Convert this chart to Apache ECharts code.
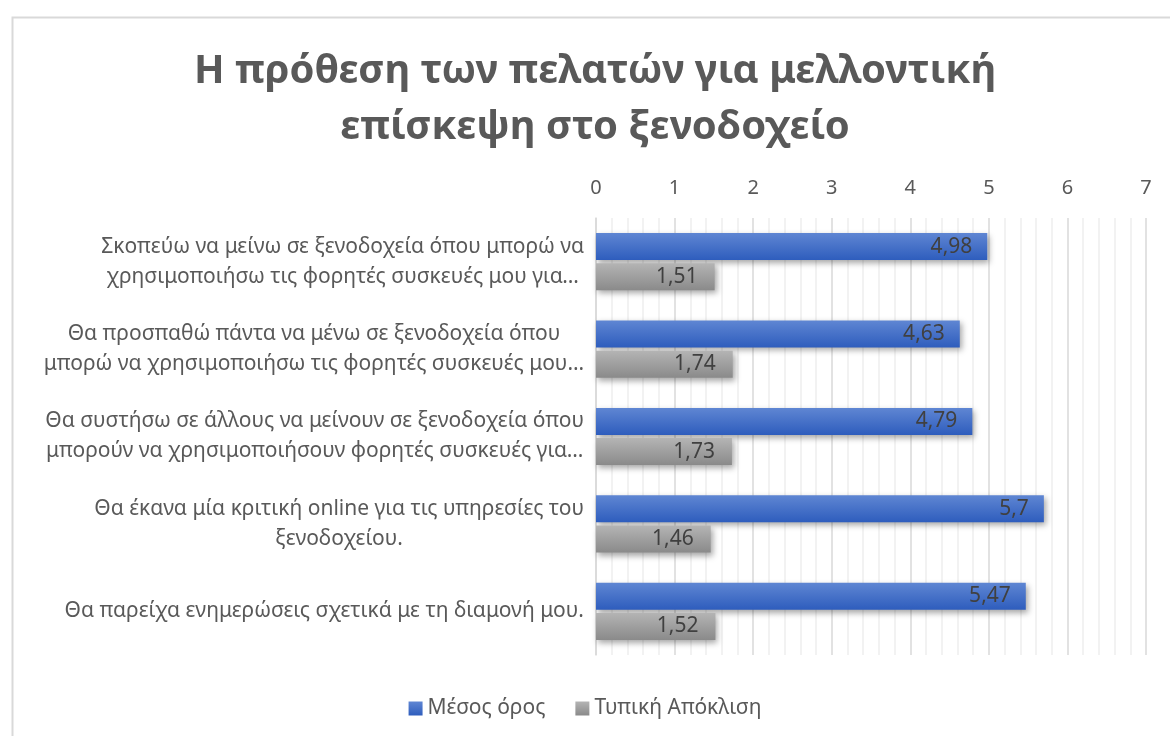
<!DOCTYPE html>
<html>
<head>
<meta charset="utf-8">
<title>Η πρόθεση των πελατών για μελλοντική επίσκεψη στο ξενοδοχείο</title>
<script src="https://cdn.jsdelivr.net/npm/echarts@6/dist/echarts.min.js"></script>
<style>
  html, body { margin: 0; padding: 0; background: #ffffff; }
  #chart { width: 1170px; height: 736px; }
</style>
</head>
<body>
<div id="chart"></div>
<script>
// Survey statements (already wrapped / shortened as shown on the axis)
const categories = [
  'Σκοπεύω να μείνω σε ξενοδοχεία όπου μπορώ να\nχρησιμοποιήσω τις φορητές συσκευές μου για…',
  'Θα προσπαθώ πάντα να μένω σε ξενοδοχεία όπου\nμπορώ να χρησιμοποιήσω τις φορητές συσκευές μου…',
  'Θα συστήσω σε άλλους να μείνουν σε ξενοδοχεία όπου\nμπορούν να χρησιμοποιήσουν φορητές συσκευές για…',
  'Θα έκανα μία κριτική online για τις υπηρεσίες του\nξενοδοχείου.',
  'Θα παρείχα ενημερώσεις σχετικά με τη διαμονή μου.'
];

const meanValues = [4.98, 4.63, 4.79, 5.7, 5.47];
const stdValues = [1.51, 1.74, 1.73, 1.46, 1.52];

const seriesNames = ['Μέσος όρος', 'Τυπική Απόκλιση'];
const titleText = 'Η πρόθεση των πελατών για μελλοντική\nεπίσκεψη στο ξενοδοχείο';

const FONT = '"Noto Sans", "Open Sans", "DejaVu Sans", sans-serif';
const TEXT = '#595959';

const fmtComma = v => String(v).replace('.', ',');

const blueFill = new echarts.graphic.LinearGradient(0, 0, 0, 1, [
  { offset: 0, color: '#5f86d3' },
  { offset: 1, color: '#2e5dbd' }
]);
const grayFill = new echarts.graphic.LinearGradient(0, 0, 0, 1, [
  { offset: 0, color: '#b4b4b4' },
  { offset: 1, color: '#8a8a8a' }
]);

const barShadow = {
  shadowColor: 'rgba(0,0,0,0.35)',
  shadowBlur: 6,
  shadowOffsetX: 2,
  shadowOffsetY: 3
};

const valueLabel = {
  show: true,
  position: 'insideRight',
  distance: 15,
  formatter: p => fmtComma(p.value),
  fontFamily: FONT,
  fontSize: 21,
  color: '#404040'
};

const chart = echarts.init(document.getElementById('chart'), null, { renderer: 'canvas' });

chart.setOption({
  backgroundColor: '#ffffff',
  animation: false,
  textStyle: { fontFamily: FONT },
  graphic: [
    {
      // chart-area frame
      type: 'rect',
      left: 10,
      top: 15,
      shape: { x: 0, y: 0, width: 1170, height: 740 },
      style: { fill: 'none', stroke: '#d9d9d9', lineWidth: 2 },
      silent: true,
      z: -1
    },
    {
      // two-line title
      type: 'text',
      x: 595,
      y: 100,
      style: {
        text: titleText,
        align: 'center',
        verticalAlign: 'middle',
        fontFamily: FONT,
        fontWeight: 'bold',
        fontSize: 40,
        lineHeight: 56,
        fill: TEXT
      },
      silent: true
    }
  ],
  legend: {
    data: seriesNames,
    bottom: 12,
    left: 'center',
    itemWidth: 14,
    itemHeight: 14,
    itemGap: 30,
    icon: 'rect',
    textStyle: { fontFamily: FONT, fontSize: 21, color: TEXT }
  },
  grid: {
    left: 596,
    right: 24,
    top: 218,
    bottom: 81,
    containLabel: false
  },
  xAxis: {
    type: 'value',
    position: 'top',
    min: 0,
    max: 7,
    interval: 1,
    axisLine: { show: false },
    axisTick: { show: false },
    axisLabel: {
      margin: 20,
      fontFamily: FONT,
      fontSize: 20,
      color: TEXT
    },
    splitLine: { show: true, lineStyle: { color: '#d9d9d9', width: 1.5 } },
    minorTick: { show: false, splitNumber: 5 },
    minorSplitLine: { show: true, lineStyle: { color: '#eeeeee', width: 1.5 } }
  },
  yAxis: {
    type: 'category',
    inverse: true,
    data: categories,
    axisLine: { show: true, lineStyle: { color: '#d9d9d9', width: 1.5 } },
    axisTick: { show: false },
    axisLabel: {
      margin: 12,
      align: 'right',
      fontFamily: FONT,
      fontSize: 21,
      color: TEXT,
      formatter: v => v.split('\n').map(l => '{c|' + l + '}').join('\n'),
      rich: {
        c: { align: 'center', fontFamily: FONT, fontSize: 21, lineHeight: 30, color: TEXT }
      }
    }
  },
  series: [
    {
      name: seriesNames[0],
      type: 'bar',
      data: meanValues,
      barWidth: 27,
      barGap: '12%',
      itemStyle: Object.assign({ color: blueFill }, barShadow),
      label: valueLabel
    },
    {
      name: seriesNames[1],
      type: 'bar',
      data: stdValues,
      barWidth: 27,
      itemStyle: Object.assign({ color: grayFill }, barShadow),
      label: Object.assign({}, valueLabel, { distance: 17 })
    }
  ]
});
</script>
</body>
</html>
